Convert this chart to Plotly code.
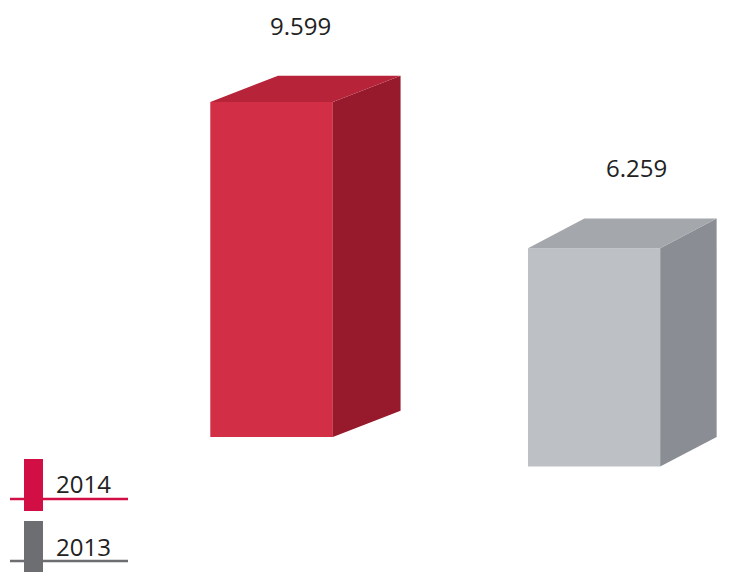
import plotly.graph_objects as go

# Data
years = ["2014", "2013"]
values = [9.599, 6.259]
labels = ["9.599", "6.259"]

# Styling
front_colors = ["#d22e45", "#bdc0c4"]
side_colors = ["#961a2c", "#8a8d93"]
top_colors = ["#b7243a", "#a4a7ac"]
legend_colors = ["#d20f45", "#6d6e71"]

W, H = 736, 572
positions = [0.0, 1.0]
bases = [0.0, -0.85]      # perspective: the rear bar sits lower on the page
bar_widths = [0.38, 0.41]
depth_xs = [0.21, 0.175]  # 3D extrusion to the right ...
depth_ys = [0.75, 0.85]   # ... and upward
label_xshift = [-5, 14]

x_range = [-0.842, 1.44]
y_range = [-3.87, 12.52]

fig = go.Figure()

# Front faces
fig.add_trace(go.Bar(
    x=positions, y=values, base=bases, width=bar_widths,
    marker=dict(color=front_colors, line=dict(width=0)),
    hoverinfo="skip", showlegend=False,
))

# Top and side faces, derived from each bar's value
for i, (xc, v, b) in enumerate(zip(positions, values, bases)):
    bw, dx, dy = bar_widths[i], depth_xs[i], depth_ys[i]
    x0, x1 = xc - bw / 2, xc + bw / 2
    top = b + v
    # side face
    fig.add_trace(go.Scatter(
        x=[x1, x1 + dx, x1 + dx, x1, x1],
        y=[b, b + dy, top + dy, top, b],
        fill="toself", fillcolor=side_colors[i], mode="lines",
        line=dict(width=0), hoverinfo="skip", showlegend=False,
    ))
    # top face
    fig.add_trace(go.Scatter(
        x=[x0, x1, x1 + dx, x0 + dx, x0],
        y=[top, top, top + dy, top + dy, top],
        fill="toself", fillcolor=top_colors[i], mode="lines",
        line=dict(width=0), hoverinfo="skip", showlegend=False,
    ))
    # value label above the bar
    fig.add_annotation(
        x=xc + dx / 2, y=top + dy + 1.45, text=labels[i],
        xshift=label_xshift[i],
        showarrow=False, xanchor="center", yanchor="middle",
        font=dict(family="Open Sans", size=24, color="#222222"),
    )

# Custom legend in the lower-left corner
def px_x(p):
    return p / W

def px_y(p):
    return 1 - p / H

legend_rows = [(459, 511, 499, 483), (521, 572, 561, 546)]
for i, (ry0, ry1, ly, ty) in enumerate(legend_rows):
    fig.add_shape(type="rect", xref="paper", yref="paper",
                  x0=px_x(24), x1=px_x(43), y0=px_y(ry1), y1=px_y(ry0),
                  fillcolor=legend_colors[i], line=dict(width=0))
    fig.add_shape(type="line", xref="paper", yref="paper",
                  x0=px_x(10), x1=px_x(128), y0=px_y(ly), y1=px_y(ly),
                  line=dict(color=legend_colors[i], width=2.5))
    fig.add_annotation(
        xref="paper", yref="paper", x=px_x(54), y=px_y(ty),
        text=years[i], showarrow=False, xanchor="left", yanchor="middle",
        font=dict(family="Open Sans", size=24, color="#222222"),
    )

fig.update_layout(
    width=W, height=H,
    margin=dict(l=0, r=0, t=0, b=0),
    paper_bgcolor="white", plot_bgcolor="white",
    xaxis=dict(range=x_range, visible=False, fixedrange=True),
    yaxis=dict(range=y_range, visible=False, fixedrange=True),
    showlegend=False,
)

fig.write_html("out.html")
